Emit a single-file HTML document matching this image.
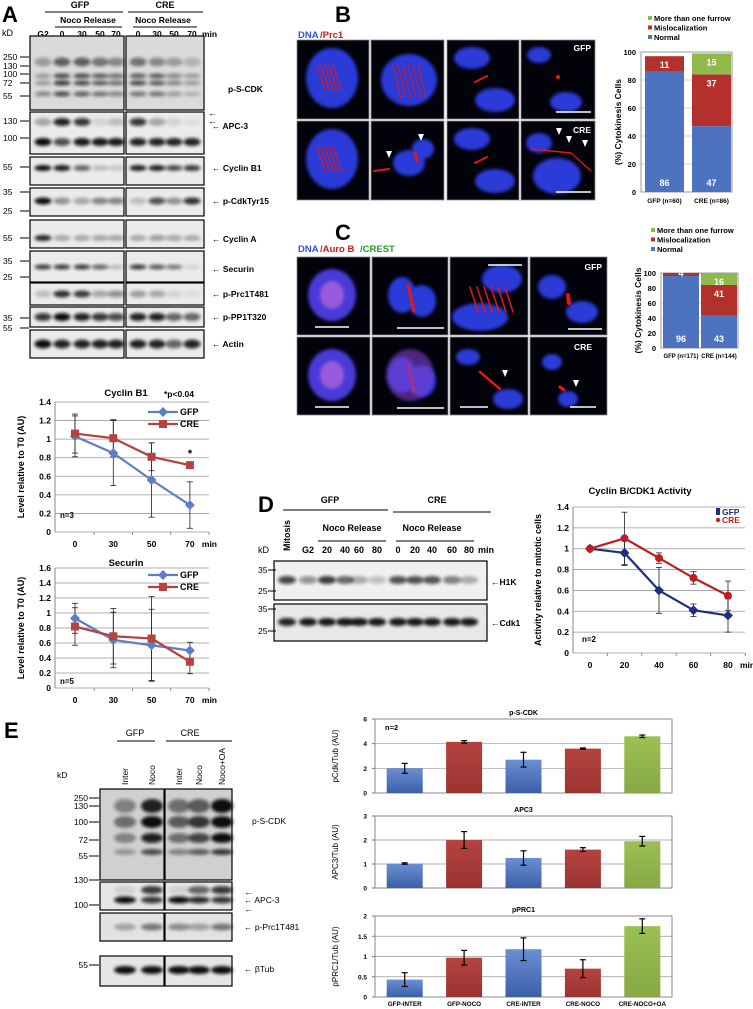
<!DOCTYPE html>
<html><head><meta charset="utf-8">
<style>
html,body{margin:0;padding:0;background:#fff;}
svg{display:block;font-family:"Liberation Sans",Arial,sans-serif;}
</style></head>
<body>
<svg id="fig" width="753" height="1009" viewBox="0 0 753 1009" xmlns="http://www.w3.org/2000/svg">
<defs>
<filter id="blur1" x="-50%" y="-50%" width="200%" height="200%"><feGaussianBlur stdDeviation="1.6"/></filter>
<filter id="blur3" x="-50%" y="-50%" width="200%" height="200%"><feGaussianBlur stdDeviation="3"/></filter>
<linearGradient id="gBlue" x1="0" y1="0" x2="0" y2="1"><stop offset="0" stop-color="#6a8fd2"/><stop offset="1" stop-color="#3c5fa8"/></linearGradient>
<linearGradient id="gRed" x1="0" y1="0" x2="0" y2="1"><stop offset="0" stop-color="#b5423f"/><stop offset="1" stop-color="#9a3431"/></linearGradient>
<linearGradient id="gGreen" x1="0" y1="0" x2="0" y2="1"><stop offset="0" stop-color="#9bc052"/><stop offset="1" stop-color="#86a944"/></linearGradient>
</defs>
<g id="root"></g>
</svg>
<script>
// ---------- data ----------
const cycCats = ["0","30","50","70"];
const cycGFP = [1.03,0.85,0.56,0.29];
const cycGFPerr = [0.22,0.35,0.4,0.25];
const cycCRE = [1.06,1.01,0.81,0.72];
const cycCREerr = [0.21,0.2,0.15,0.0];
const secGFP = [0.93,0.64,0.57,0.5];
const secGFPerr = [0.2,0.37,0.48,0.11];
const secCRE = [0.82,0.69,0.66,0.35];
const secCREerr = [0.25,0.37,0.56,0.16];
const dCats = ["0","20","40","60","80"];
const dGFP = [1,0.96,0.6,0.41,0.36];
const dGFPerr = [0,0.12,0.22,0.06,0.16];
const dCRE = [1,1.1,0.91,0.72,0.55];
const dCREerr = [0,0.25,0.05,0.06,0.14];
const bGroups = ["GFP (n=60)","CRE (n=86)"];
const bNormal = [86,47];
const bMisloc = [11,37];
const bMore = [0,15];
const cGroups = ["GFP (n=171)","CRE (n=144)"];
const cNormal = [96,43];
const cMisloc = [4,41];
const cMore = [0,16];
const eCats = ["GFP-INTER","GFP-NOCO","CRE-INTER","CRE-NOCO","CRE-NOCO+OA"];
const eCdk = [2.0,4.15,2.7,3.6,4.6];
const eCdkErr = [0.4,0.1,0.6,0.05,0.1];
const eApc = [1.02,2.0,1.25,1.6,1.95];
const eApcErr = [0.03,0.35,0.3,0.08,0.2];
const ePrc = [0.43,0.97,1.18,0.7,1.75];
const ePrcErr = [0.17,0.18,0.28,0.22,0.18];
const eColors = ["url(#gBlue)","url(#gRed)","url(#gBlue)","url(#gRed)","url(#gGreen)"];

const NS="http://www.w3.org/2000/svg";
const root=document.getElementById('root');
function mk(tag,attrs,name,parent){
  const el=document.createElementNS(NS,tag);
  for(const k in attrs) el.setAttribute(k,attrs[k]);
  
  
  (parent||root).appendChild(el);
  return el;
}
function txt(x,y,s,name,o){
  o=o||{};
  const t=mk('text',{x:x,y:y,'font-size':o.fs||9,'font-weight':o.fw||'bold','text-anchor':o.a||'start',fill:o.fill||'#000'},name,o.p);
  if(o.rot) t.setAttribute('transform','rotate(-90 '+x+' '+y+')');
  t.textContent=s;return t;
}
function line(x1,y1,x2,y2,name,o){o=o||{};return mk('line',{x1:x1,y1:y1,x2:x2,y2:y2,stroke:o.c||'#000','stroke-width':o.w||1},name,o.p);}
function band(x,y,w,h,op,name){ if(op<=0) return; mk('ellipse',{cx:x,cy:y,rx:w/2,ry:h/2,fill:'#111',opacity:op,filter:'url(#blur1)'},name); }

// ---------- panel letters ----------
txt(2,22,"A","panel-a-label",{fs:22});
txt(335,22,"B","panel-b-label",{fs:22});
txt(335,240,"C","panel-c-label",{fs:22});
txt(258,512,"D","panel-d-label",{fs:22});
txt(4,738,"E","panel-e-label",{fs:22});

// ---------- Panel A blots ----------
txt(80,8,"GFP","a-gfp-header",{a:'middle'});
line(45,12,123,12,"a-gfp-line");
txt(165,8,"CRE","a-cre-header",{a:'middle'});
line(128,12,203,12,"a-cre-line");
txt(88,23,"Noco Release","a-noco-gfp",{a:'middle',fs:8.5});
line(55,27,122,27,"a-noco-gfp-line");
txt(163,23,"Noco Release","a-noco-cre",{a:'middle',fs:8.5});
line(133,27,197,27,"a-noco-cre-line");
txt(2,36,"kD","a-kd",{fw:'normal'});
const aLaneL=[43,62,82,100,116], aLaneR=[138,157,174,192];
const aLaneLabels=["G2","0","30","50","70","0","30","50","70"];
[...aLaneL,...aLaneR].forEach((x,i)=>txt(x,37,aLaneLabels[i],"a-lane-label",{a:'middle',fs:8.5}));
txt(202,37,"min","a-min",{fs:8.5});
const strips=[
 {y0:36,y1:110,name:"p-S-CDK",ly:92,bands:[[62,[.3,.6,.6,.5,.4],[.5,.4,.3,.2],9],[76,[.3,.7,.7,.6,.5],[.6,.6,.4,.3],5],[83,[.3,.8,.7,.6,.5],[.7,.6,.4,.3],5],[94,[.4,.7,.6,.5,.4],[.5,.5,.3,.2],5]],bg:'#dadada'},
 {y0:112,y1:154,name:"APC-3",ly:129,bands:[[122,[.3,.9,.8,.1,.2],[.8,.3,.1,.05],8],[142,[1,.7,.95,.95,.95],[.9,.9,.9,.9],8]]},
 {y0:157,y1:185,name:"Cyclin B1",ly:171,bands:[[168,[1,.95,.6,.2,.15],[.9,.9,.7,.8],6]]},
 {y0:188,y1:216,name:"p-CdkTyr15",ly:204,bands:[[201,[1,.4,.3,.45,.45],[.2,.7,.4,.85],7]]},
 {y0:220,y1:248,name:"Cyclin A",ly:242,bands:[[238,[.9,.3,.3,.3,.3],[.3,.35,.3,.3],6]]},
 {y0:251,y1:282,name:"Securin",ly:272,bands:[[267,[.8,.8,.8,.6,.2],[.8,.65,.5,.1],5]]},
 {y0:283,y1:305,name:"p-Prc1T481",ly:297,bands:[[294,[.2,.85,.8,.3,.4],[.35,.3,.1,.05],7]]},
 {y0:307,y1:327,name:"p-PP1T320",ly:320,bands:[[317,[.8,1,.9,.8,.7],[.9,.9,.6,.6],8]]},
 {y0:330,y1:358,name:"Actin",ly:347,bands:[[344,[1,.9,.9,.9,.9],[.9,.9,.6,.9],9]]}
];
strips.forEach(s=>{
  mk('rect',{x:30,y:s.y0,width:94,height:s.y1-s.y0,fill:s.bg||'#ebebeb',stroke:'#000','stroke-width':1.2},"a-blot-"+s.name+"-gfp");
  mk('rect',{x:126,y:s.y0,width:78,height:s.y1-s.y0,fill:s.bg||'#ebebeb',stroke:'#000','stroke-width':1.2},"a-blot-"+s.name+"-cre");
  s.bands.forEach(b=>{
    aLaneL.forEach((x,i)=>band(x,b[0],17,b[3],b[1][i],"a-band"));
    aLaneR.forEach((x,i)=>band(x,b[0],17,b[3],b[2][i],"a-band"));
  });
  txt(s.name==="p-S-CDK"?228:212,s.ly,(s.name==="p-S-CDK"?"":"\u2190 ")+s.name,"a-label-"+s.name,{fs:8.5});
});
txt(208,116,"\u2190","a-arrow",{fs:9});txt(208,124,"\u2190","a-arrow",{fs:9});
[["250",57],["130",66],["100",74],["72",83],["55",96],["130",121],["100",138],["55",167],["35",192],["25",211],["55",238],["35",261],["25",277],["35",318],["55",328]].forEach(m=>{
  txt(3,m[1]+3,m[0],"a-mw-marker",{fw:'normal',fs:8.5});line(20,m[1],29,m[1],"a-mw-tick");
});

// ---------- line chart helper ----------
function lineChart(cfg){
  const {x0,x1,yTop,yBot,vmax,step,cats,xf,series,title,ylab}=cfg;
  const y=v=>yBot-(v/vmax)*(yBot-yTop);
  for(let v=0;v<=vmax+1e-9;v+=step){
    line(x0,y(v),x1,y(v),cfg.id+"-gridline",{c:'#999',w:0.8});
    txt(x0-4,y(v)+3,(+v.toFixed(1)).toString(),cfg.id+"-ytick",{a:'end',fs:8.5});
  }
  line(x0,yTop,x0,yBot,cfg.id+"-yaxis",{c:'#888'});
  cats.forEach((c,i)=>{txt(xf(i),yBot+15,c,cfg.id+"-xtick",{a:'middle',fs:8.5});line(xf(i)+ (xf(1)-xf(0))/2,yBot,xf(i)+(xf(1)-xf(0))/2,yBot+3,cfg.id+"-xtickmark",{c:'#888'});});
  txt(xf(cats.length-1)+(cfg.minDx||12),yBot+15,"min",cfg.id+"-xunit",{fs:8.5});
  series.forEach(s=>{
    s.vals.forEach((v,i)=>{ if(s.err[i]>0){
      line(xf(i),y(v-s.err[i]),xf(i),y(v+s.err[i]),cfg.id+"-errbar",{c:'#222',w:0.8});
      line(xf(i)-3,y(v-s.err[i]),xf(i)+3,y(v-s.err[i]),cfg.id+"-errcap",{c:'#222',w:0.8});
      line(xf(i)-3,y(v+s.err[i]),xf(i)+3,y(v+s.err[i]),cfg.id+"-errcap",{c:'#222',w:0.8});
    }});
  });
  series.forEach(s=>{
    mk('polyline',{points:s.vals.map((v,i)=>xf(i)+","+y(v)).join(" "),fill:'none',stroke:s.color,'stroke-width':2.2},cfg.id+"-line-"+s.name);
    s.vals.forEach((v,i)=>{
      if(s.marker==='diamond') mk('rect',{x:xf(i)-3.5,y:y(v)-3.5,width:7,height:7,fill:s.color,transform:'rotate(45 '+xf(i)+' '+y(v)+')'},cfg.id+"-point-"+s.name);
      else if(s.marker==='square') mk('rect',{x:xf(i)-4,y:y(v)-4,width:8,height:8,fill:s.color},cfg.id+"-point-"+s.name);
      else mk('circle',{cx:xf(i),cy:y(v),r:4,fill:s.color},cfg.id+"-point-"+s.name);
    });
  });
  txt(cfg.tx,cfg.ty,title,cfg.id+"-title",{a:'middle',fs:9.5});
  txt(cfg.ylx,(yTop+yBot)/2,ylab,cfg.id+"-ytitle",{a:'middle',fs:9,rot:true});
  return y;
}
function aLegend(id,lx,ly){
  line(lx,ly,lx+30,ly,id+"-legend-gfp-line",{c:'#5b7fc4',w:2.2});
  mk('rect',{x:lx+11.5,y:ly-3.5,width:7,height:7,fill:'#5b7fc4',transform:'rotate(45 '+(lx+15)+' '+ly+')'},id+"-legend-gfp-marker");
  txt(lx+32,ly+3,"GFP",id+"-legend-gfp",{fs:9});
  line(lx,ly+12,lx+30,ly+12,id+"-legend-cre-line",{c:'#b5423e',w:2.2});
  mk('rect',{x:lx+11,y:ly+8,width:8,height:8,fill:'#b5423e'},id+"-legend-cre-marker");
  txt(lx+32,ly+15,"CRE",id+"-legend-cre",{fs:9});
}
const yC=lineChart({id:'cycb1',x0:55,x1:209,yTop:402,yBot:532,vmax:1.4,step:0.2,cats:cycCats,xf:i=>75+i*38.3,
  series:[{name:'gfp',vals:cycGFP,err:cycGFPerr,color:'#5b7fc4',marker:'diamond'},{name:'cre',vals:cycCRE,err:cycCREerr,color:'#b5423e',marker:'square'}],
  title:"Cyclin B1",tx:126,ty:396,ylab:"Level relative to T0 (AU)",ylx:24});
txt(164,397,"*p<0.04","cycb1-pvalue",{fs:8.5});
txt(190,yC(0.72)-8,"*","cycb1-star",{a:'middle',fs:11});
txt(60,518,"n=3","cycb1-n",{fs:8});
aLegend('cycb1',148,412);
const yS=lineChart({id:'securin',x0:55,x1:209,yTop:568,yBot:688,vmax:1.6,step:0.2,cats:cycCats,xf:i=>75+i*38.3,
  series:[{name:'gfp',vals:secGFP,err:secGFPerr,color:'#5b7fc4',marker:'diamond'},{name:'cre',vals:secCRE,err:secCREerr,color:'#b5423e',marker:'square'}],
  title:"Securin",tx:126,ty:566,ylab:"Level relative to T0 (AU)",ylx:24});
txt(60,684,"n=5","securin-n",{fs:8});
aLegend('securin',148,575);

// ---------- Panels B/C microscopy ----------
function cell(x,y,w,h,name,draw){
  const g=mk('g',{},name);
  mk('rect',{x:x,y:y,width:w,height:h,fill:'#02020a',stroke:'#888','stroke-width':0.8},name+"-bg",g);
  draw(g,x,y,w,h);
}
function nuc(g,cx,cy,rx,ry,col){mk('ellipse',{cx:cx,cy:cy,rx:rx,ry:ry,fill:col||'#2a3ad8',filter:'url(#blur1)'},"nucleus",g);}
function red(g,x1,y1,x2,y2,w){mk('line',{x1:x1,y1:y1,x2:x2,y2:y2,stroke:'#e01818','stroke-width':w||2,'stroke-linecap':'round'},"red-stain",g);}
function arrowHead(g,x,y){mk('polygon',{points:(x-3)+","+(y-5)+" "+(x+3)+","+(y-5)+" "+x+","+(y+2),fill:'#fff'},"arrowhead",g);}
txt(298,38,"DNA","b-dna-label",{fill:'#3050e0',fs:9.5});
txt(320,38,"/Prc1","b-prc1-label",{fill:'#d01818',fs:9.5});
const bx=[297,371,447,521], bw=[72,73,72,74];
[40,121].forEach((yy,r)=>bx.forEach((xx,c)=>cell(xx,yy,bw[c],79,"b-image-r"+(r+1)+"c"+(c+1),(g,x,y,w,h)=>{
  if(c===0){nuc(g,x+35,y+38,26,30);for(let k=0;k<5;k++)red(g,x+20+k*4,y+25,x+28+k*4,y+50,1.2);}
  if(c===1&&r===0){nuc(g,x+38,y+40,28,26);for(let k=0;k<6;k++)red(g,x+22+k*5,y+25,x+30+k*5,y+58,1);}
  if(c===1&&r===1){nuc(g,x+38,y+42,16,13);nuc(g,x+52,y+28,11,10);red(g,x+3,y+50,x+18,y+48);red(g,x+44,y+32,x+46,y+40,3);arrowHead(g,x+18,y+35);arrowHead(g,x+50,y+18);}
  if(c===2){nuc(g,x+25,y+18,18,11);nuc(g,x+48,y+60,20,12);red(g,x+28,y+42,x+40,y+36,2);}
  if(c===3&&r===0){nuc(g,x+18,y+15,12,8);nuc(g,x+45,y+62,16,10);mk('circle',{cx:x+37,cy:y+37,r:2,fill:'#e01818'},"red-dot",g);line(x+35,y+72,x+70,y+72,"scale-bar",{c:'#fff',w:1.5,p:g});txt(x+70,y+11,"GFP","b-gfp-tag",{a:'end',fill:'#fff',fs:8.5,p:g});}
  if(c===3&&r===1){nuc(g,x+18,y+22,13,10);nuc(g,x+36,y+55,24,18);red(g,x+10,y+28,x+50,y+32,1.5);red(g,x+50,y+32,x+70,y+50,1.2);arrowHead(g,x+38,y+12);arrowHead(g,x+48,y+20);arrowHead(g,x+64,y+24);line(x+35,y+71,x+70,y+71,"scale-bar",{c:'#fff',w:1.5,p:g});txt(x+70,y+12,"CRE","b-cre-tag",{a:'end',fill:'#fff',fs:8.5,p:g});}
})));
txt(298,252,"DNA","c-dna-label",{fill:'#3050e0',fs:9.5});
txt(320,252,"/Auro B","c-aurob-label",{fill:'#d01818',fs:9.5});
txt(360,252,"/CREST","c-crest-label",{fill:'#2a9a2a',fs:9.5});
const cx=[297,372,450,530], cw=[73,76,78,77];
[257,337].forEach((yy,r)=>cx.forEach((xx,c)=>cell(xx,yy,cw[c],78,"c-image-r"+(r+1)+"c"+(c+1),(g,x,y,w,h)=>{
  if(c===0){nuc(g,x+35,y+38,24,26,'#4a3ad8');mk('ellipse',{cx:x+35,cy:y+38,rx:12,ry:14,fill:'#d070e0',opacity:0.6,filter:'url(#blur1)'},"aurob-stain",g);line(x+18,y+70,x+52,y+70,"scale-bar",{c:'#fff',w:1.5,p:g});}
  if(c===1){nuc(g,x+30,y+38,14,18);nuc(g,x+50,y+44,14,16);red(g,x+36,y+28,x+42,y+54,3);if(r===1)mk('ellipse',{cx:x+38,cy:y+38,rx:24,ry:26,fill:'#8040d0',opacity:0.6,filter:'url(#blur1)'},"aurob-stain",g);line(x+25,y+71,x+72,y+71,"scale-bar",{c:'#fff',w:1.5,p:g});}
  if(c===2&&r===0){nuc(g,x+52,y+22,20,14);nuc(g,x+30,y+60,28,14);for(let k=0;k<6;k++)red(g,x+20+k*7,y+30,x+28+k*7,y+55,1.5);line(x+38,y+8,x+72,y+8,"scale-bar",{c:'#fff',w:1.5,p:g});}
  if(c===2&&r===1){nuc(g,x+18,y+20,12,8);nuc(g,x+58,y+62,15,10);red(g,x+30,y+35,x+50,y+52,2.5);arrowHead(g,x+55,y+38);line(x+10,y+70,x+38,y+70,"scale-bar",{c:'#fff',w:1.5,p:g});}
  if(c===3&&r===0){nuc(g,x+22,y+30,14,12);nuc(g,x+52,y+55,16,11);red(g,x+38,y+38,x+39,y+46,4);line(x+38,y+72,x+72,y+72,"scale-bar",{c:'#fff',w:1.5,p:g});txt(x+72,y+13,"GFP","c-gfp-tag",{a:'end',fill:'#fff',fs:8.5,p:g});}
  if(c===3&&r===1){nuc(g,x+22,y+25,10,8);nuc(g,x+38,y+62,10,8);red(g,x+30,y+50,x+34,y+53,3);arrowHead(g,x+46,y+48);line(x+40,y+70,x+66,y+70,"scale-bar",{c:'#fff',w:1.5,p:g});txt(x+62,y+13,"CRE","c-cre-tag",{a:'end',fill:'#fff',fs:8.5,p:g});}
})));

// ---------- stacked bar charts B/C ----------
function stacked(cfg){
  const {id,x0,x1,yTop,yBot,groups,normal,misloc,more,bx,bw,ly,lx,labY,fs}=cfg;
  const y=v=>yBot-v/100*(yBot-yTop);
  for(let v=0;v<=100;v+=20){line(x0,y(v),x1,y(v),id+"-gridline",{c:'#aaa',w:0.6});txt(x0-5,y(v)+3,String(v),id+"-ytick",{a:'end',fs:7.5});}
  mk('rect',{x:x0,y:yTop,width:x1-x0,height:yBot-yTop,fill:'none',stroke:'#999'},id+"-plot-frame");
  groups.forEach((gname,i)=>{
    let base=0;
    [[normal[i],'#4d73c0','normal'],[misloc[i],'#b3302c','mislocalization'],[more[i],'#8fba4b','more-than-one-furrow']].forEach(seg=>{
      if(seg[0]>0){
        mk('rect',{x:bx[i],y:y(base+seg[0]),width:bw,height:y(base)-y(base+seg[0]),fill:seg[1]},id+"-bar-"+seg[2]);
        txt(bx[i]+bw/2,(y(base)+y(base+seg[0]))/2+(seg[0]<6?2:-((y(base)-y(base+seg[0]))/2)+ (seg[2]==='normal'?(y(base)-y(base+seg[0]))-6:12)),String(seg[0]),id+"-value-label",{a:'middle',fill:'#fff',fs:9});
      }
      base+=seg[0];
    });
    txt(bx[i]+bw/2,labY,gname,id+"-xtick",{a:'middle',fs:fs||6.5});
  });
  [['More than one furrow','#8fba4b'],['Mislocalization','#b3302c'],['Normal','#4d73c0']].forEach((L,k)=>{
    mk('rect',{x:lx,y:ly+k*9.5-5,width:4,height:4,fill:L[1]},id+"-legend-swatch");
    txt(lx+6,ly+k*9.5,L[0],id+"-legend-label",{fs:7.5});
  });
  txt(x0-20,(yTop+yBot)/2,"(%) Cytokinesis Cells",id+"-ytitle",{a:'middle',fs:8.5,rot:true});
}
stacked({id:'b-chart',x0:641,x1:732,yTop:52,yBot:192,groups:bGroups,normal:bNormal,misloc:bMisloc,more:bMore,bx:[645,692],bw:39,ly:21,lx:648,labY:203});
stacked({id:'c-chart',x0:661,x1:738,yTop:273,yBot:348,groups:cGroups,normal:cNormal,misloc:cMisloc,more:cMore,bx:[663,701],bw:36,ly:233,lx:651,labY:358,fs:6});

// ---------- Panel D blot ----------
txt(330,503,"GFP","d-gfp-header",{a:'middle'});
line(283,510,388,510,"d-gfp-line");
txt(437,503,"CRE","d-cre-header",{a:'middle'});
line(393,512,491,512,"d-cre-line");
txt(352,531,"Noco Release","d-noco-gfp",{a:'middle'});
line(318,541,386,541,"d-noco-gfp-line");
txt(432,531,"Noco Release","d-noco-cre",{a:'middle'});
line(396,541,474,541,"d-noco-cre-line");
txt(290,551,"Mitosis","d-mitosis",{rot:true,fs:9});
txt(258,553,"kD","d-kd",{fw:'normal'});
const dLanes=[287,308,327,345,359,377,398,415,432,452,469];
const dLaneLab=["","G2","20","40","60","80","0","20","40","60","80"];
dLanes.forEach((x,i)=>{if(dLaneLab[i])txt(x,553,dLaneLab[i],"d-lane-label",{a:'middle',fs:9});});
txt(478,553,"min","d-min",{fs:9});
mk('rect',{x:274,y:561,width:213,height:39,fill:'#f0f0f0',stroke:'#000','stroke-width':1.2},"d-blot-h1k");
mk('rect',{x:274,y:604,width:213,height:37,fill:'#e8e8e8',stroke:'#000','stroke-width':1.2},"d-blot-cdk1");
const dH1K=[.75,.4,.8,.6,.3,.2,.7,.7,.7,.5,.3], dCdk=[.9,.95,.95,.95,.95,.95,.95,.95,.95,.95,.95];
dLanes.forEach((x,i)=>{band(x,580,18,8,dH1K[i],"d-band-h1k");band(x,622,18,8,dCdk[i],"d-band-cdk1");});
[["35",570],["25",591],["35",609],["25",631]].forEach(m=>{txt(258,m[1]+3,m[0],"d-mw-marker",{fw:'normal',fs:8.5});line(268,m[1],276,m[1],"d-mw-tick");});
txt(491,585,"\u2190H1K","d-label-h1k",{fs:8.5});
txt(491,626,"\u2190Cdk1","d-label-cdk1",{fs:8.5});

const yD=lineChart({id:'d-chart',x0:573,x1:745,yTop:507,yBot:653,vmax:1.4,step:0.2,cats:dCats,xf:i=>590+i*34.5,minDx:12,
  series:[{name:'gfp',vals:dGFP,err:dGFPerr,color:'#1e2f80',marker:'diamond'},{name:'cre',vals:dCRE,err:dCREerr,color:'#c01e1e',marker:'circle'}],
  title:"Cyclin B/CDK1 Activity",tx:640,ty:494,ylab:"Activity relative to mitotic cells",ylx:541});
txt(582,642,"n=2","d-chart-n",{fs:8});
mk('rect',{x:716,y:508,width:4,height:7,fill:'#1e2f80'},"d-legend-gfp-marker");
txt(722,515,"GFP","d-legend-gfp",{fill:'#1e2f80',fs:8.5});
mk('circle',{cx:718,cy:520,r:2.2,fill:'#c01e1e'},"d-legend-cre-marker");
txt(722,523,"CRE","d-legend-cre",{fill:'#c01e1e',fs:8.5});

// ---------- Panel E blot ----------
txt(135,736,"GFP","e-gfp-header",{a:'middle',fw:'normal'});
line(117,741,155,741,"e-gfp-line");
txt(190,736,"CRE","e-cre-header",{a:'middle',fw:'normal'});
line(166,741,232,741,"e-cre-line");
txt(57,778,"kD","e-kd",{fw:'normal',fs:8.5});
const eLanes=[125,152,179,199,222], eLab=["Inter","Noco","Inter","Noco","Noco+OA"];
eLanes.forEach((x,i)=>txt(x+3,785,eLab[i],"e-lane-label",{rot:true,fw:'normal',fs:8.5}));
const eStrips=[[789,880,'#d0d0d0'],[882,910,'#e6e6e6'],[913,941,'#e2e2e2'],[956,986,'#e6e6e6']];
eStrips.forEach((s,k)=>{
  mk('rect',{x:100,y:s[0],width:64,height:s[1]-s[0],fill:s[2],stroke:'#000','stroke-width':1.2},"e-blot-left-"+k);
  mk('rect',{x:165,y:s[0],width:67,height:s[1]-s[0],fill:s[2],stroke:'#000','stroke-width':1.2},"e-blot-right-"+k);
});
const eBands=[[806,[.4,.9,.5,.6,1],14],[822,[.5,1,.6,.8,1],12],[838,[.4,.9,.5,.7,1],10],[852,[.3,.7,.4,.6,.8],6],[900,[1,.8,1,.85,.8],7],[890,[.1,.8,.1,.6,.8],8],[927,[.3,.5,.4,.3,.5],7],[970,[1,1,1,1,1],8]];
eBands.forEach(b=>eLanes.forEach((x,i)=>band(x,b[0],22,b[2],b[1][i],"e-band")));
[["250",798],["130",806],["100",822],["72",840],["55",856],["130",880],["100",905],["55",965]].forEach(m=>{txt(88,m[1]+3,m[0],"e-mw-marker",{a:'end',fw:'normal',fs:8.5});line(89,m[1],99,m[1],"e-mw-tick");});
txt(252,824,"p-S-CDK","e-label-pscdk",{fw:'normal',fs:8.5});
txt(244,895,"\u2190","e-arrow",{fw:'normal'});
txt(244,903,"\u2190 APC-3","e-label-apc3",{fw:'normal',fs:8.5});
txt(244,912,"\u2190","e-arrow",{fw:'normal'});
txt(244,930,"\u2190 p-Prc1T481","e-label-prc1",{fw:'normal',fs:8.5});
txt(244,972,"\u2190 \u03b2Tub","e-label-btub",{fw:'normal',fs:8.5});

// ---------- Panel E bar charts ----------
function barChart(cfg){
  const {id,yTop,yBot,vmax,step,vals,errs,title,ylab}=cfg;
  const x0=375,x1=672,bw=36;
  const xc=i=>x0+(x1-x0)/eCats.length*(i+0.5);
  const y=v=>yBot-v/vmax*(yBot-yTop);
  for(let v=0;v<=vmax+1e-9;v+=step){
    line(x0,y(v),x1,y(v),id+"-gridline",{c:'#999',w:0.7});
    txt(x0-8,y(v)+2.5,(+v.toFixed(1)).toString(),id+"-ytick",{a:'end',fs:6.5});
    line(x0-3,y(v),x0,y(v),id+"-ytickmark",{c:'#777'});
  }
  mk('rect',{x:x0,y:yTop,width:x1-x0,height:yBot-yTop,fill:'none',stroke:'#888'},id+"-plot-frame");
  vals.forEach((v,i)=>{
    mk('rect',{x:xc(i)-bw/2,y:y(v),width:bw,height:yBot-y(v),fill:eColors[i]},id+"-bar-"+eCats[i]);
    line(xc(i),y(v-errs[i]),xc(i),y(v+errs[i]),id+"-errbar",{w:1.2});
    line(xc(i)-3,y(v-errs[i]),xc(i)+3,y(v-errs[i]),id+"-errcap",{w:1.2});
    line(xc(i)-3,y(v+errs[i]),xc(i)+3,y(v+errs[i]),id+"-errcap",{w:1.2});
  });
  txt((x0+x1)/2,yTop-4,title,id+"-title",{a:'middle',fs:7});
  txt(338,(yTop+yBot)/2,ylab,id+"-ytitle",{a:'middle',fs:8,rot:true,fw:'normal'});
  return xc;
}
barChart({id:'e-pscdk',yTop:719,yBot:793,vmax:6,step:2,vals:eCdk,errs:eCdkErr,title:"p-S-CDK",ylab:"pCdk/Tub (AU)"});
txt(385,730,"n=2","e-pscdk-n",{fs:7.5});
barChart({id:'e-apc3',yTop:816,yBot:888,vmax:3,step:1,vals:eApc,errs:eApcErr,title:"APC3",ylab:"APC3/Tub (AU)"});
const xcE=barChart({id:'e-pprc1',yTop:916,yBot:997,vmax:2,step:0.5,vals:ePrc,errs:ePrcErr,title:"pPRC1",ylab:"pPRC1/Tub (AU)"});
eCats.forEach((c,i)=>txt(xcE(i),1006,c,"e-xtick",{a:'middle',fs:6.3}));
</script>
</body></html>
